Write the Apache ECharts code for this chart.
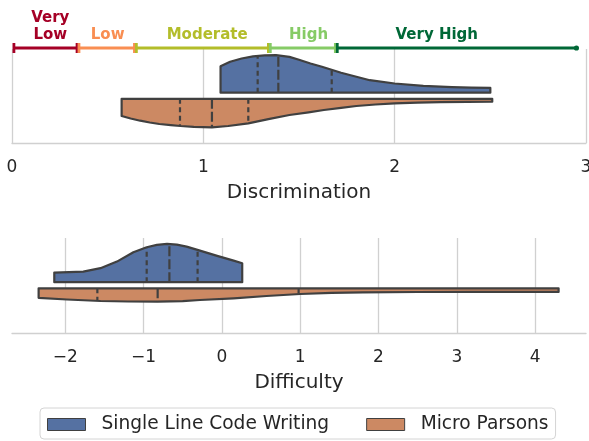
<!DOCTYPE html>
<html><head><meta charset="utf-8">
<script src="https://cdn.jsdelivr.net/npm/echarts@6/dist/echarts.min.js"></script>
<style>html,body{margin:0;padding:0;background:#fff}#c{width:589px;height:441px}</style>
</head><body><div id="c"></div>
<script>
// ---------- data ----------
const seriesNames = ['Single Line Code Writing', 'Micro Parsons'];

// Discrimination categories (Baker)
const rangeLabels = ['Very\nLow', 'Low', 'Moderate', 'High', 'Very High'];
const rangeStart  = [0.01, 0.35, 0.65, 1.35, 1.70];
const rangeEnd    = [0.34, 0.64, 1.34, 1.69, 2.95];
const rangeLabelAt = [0.20, 0.50, 1.02, 1.55, 2.22];

const discTicks = [0, 1, 2, 3];
const diffTicks = [-2, -1, 0, 1, 2, 3, 4];

// Discrimination - Single Line Code Writing (density profile, upper half)
const discSlX = [1.09, 1.14, 1.2, 1.26, 1.32, 1.38, 1.45, 1.5, 1.56, 1.62, 1.67, 1.72, 1.77, 1.87, 2.0, 2.15, 2.3, 2.4, 2.5];
const discSlD = [26.5, 31, 34.2, 36.3, 37.3, 37.5, 35.8, 33, 29.2, 26, 23, 20, 17.5, 12.5, 9.2, 6.8, 5.5, 5, 4.8];
const discSlQ = [1.284, 1.392, 1.671];

// Discrimination - Micro Parsons (lower half)
const discMpX = [0.573, 0.62, 0.67, 0.72, 0.77, 0.83, 0.88, 0.95, 1.045, 1.13, 1.235, 1.34, 1.45, 1.55, 1.63, 1.72, 1.8, 1.9, 2.0, 2.12, 2.24, 2.38, 2.51];
const discMpD = [17.2, 19.7, 21.9, 23.7, 25.2, 26.4, 27.2, 28, 28.5, 27.2, 24.5, 20.3, 16.2, 13.5, 11.2, 9, 7.2, 5.7, 4.5, 3.8, 3.3, 3, 2.9];
const discMpQ = [0.878, 1.045, 1.235];

// Difficulty - Single Line Code Writing
const diffSlX = [-2.14, -1.77, -1.55, -1.34, -1.13, -0.96, -0.83, -0.70, -0.575, -0.45, -0.28, -0.06, 0.15, 0.26];
const diffSlD = [9.6, 10.6, 14, 20.6, 30, 35, 37.3, 38.3, 37.6, 35.6, 31.6, 26.3, 21.6, 19];
const diffSlQ = [-0.96, -0.67, -0.31];

// Difficulty - Micro Parsons
const diffMpX = [-2.34, -1.98, -1.55, -1.2, -0.82, -0.5, -0.28, 0.15, 0.57, 1.0, 1.4, 1.8, 2.5, 3.2, 4.3];
const diffMpD = [9.5, 11.2, 12.7, 13.2, 13.4, 12.8, 11.7, 10, 7.7, 5.7, 4.6, 4, 3.7, 3.6, 3.6];
const diffMpQ = [-1.59, -0.82, 0.98];

// ---------- style ----------
const FONT = 'DejaVu Sans';
const EDGE = '#404040';
const COLORS = ['#5571a2', '#cc8963'];
const RANGE_COLORS = ['#a50026', '#f98e52', '#b3bd2a', '#86cb66', '#006837'];
const GRIDC = '#d0d0d0';
const TXT = '#262626';
const Y_TOP = 47;      // half-range of top hidden y axis
const Y_BOT = 47.5;    // half-range of bottom hidden y axis
const BASE_UP = 3.3, BASE_DN = -2.8; // split gap around centre

function interp(xs, ds, q) {
  if (q <= xs[0]) return ds[0];
  for (let i = 1; i < xs.length; i++) {
    if (q <= xs[i]) {
      const t = (q - xs[i - 1]) / (xs[i] - xs[i - 1]);
      return ds[i - 1] + t * (ds[i] - ds[i - 1]);
    }
  }
  return ds[ds.length - 1];
}

function violin(name, color, xs, ds, qs, side, base, axisIdx) {
  return {
    type: 'custom', name: name, xAxisIndex: axisIdx, yAxisIndex: axisIdx,
    itemStyle: { color: color, borderColor: EDGE, borderWidth: 1 },
    silent: true, clip: false,
    data: [[xs[0], base]],
    renderItem: function (params, api) {
      const pts = [];
      for (let i = 0; i < xs.length; i++) pts.push(api.coord([xs[i], base + side * ds[i]]));
      pts.push(api.coord([xs[xs.length - 1], base]));
      pts.push(api.coord([xs[0], base]));
      const children = [{
        type: 'polygon', shape: { points: pts, smooth: 0 },
        style: { fill: color, stroke: EDGE, lineWidth: 2.2, lineJoin: 'round' }
      }];
      qs.forEach(function (q, k) {
        const h = interp(xs, ds, q);
        const a = api.coord([q, base]);
        const b = api.coord([q, base + side * h]);
        children.push({
          type: 'line', shape: { x1: a[0], y1: a[1], x2: b[0], y2: b[1] },
          style: { stroke: EDGE, lineWidth: 2.2, lineDash: k === 1 ? [10, 3] : [5, 3.5] }
        });
      });
      return { type: 'group', children: children };
    }
  };
}

const rangeSeries = {
  type: 'custom', xAxisIndex: 0, yAxisIndex: 0, silent: true, clip: false,
  data: rangeStart.map(function (s, i) { return [s, rangeEnd[i], rangeLabelAt[i], i]; }),
  encode: { x: [0, 1, 2], y: -1 },
  renderItem: function (params, api) {
    const i = api.value(3);
    const c = RANGE_COLORS[i];
    const p1 = api.coord([api.value(0), Y_TOP]);
    const p2 = api.coord([api.value(1), Y_TOP]);
    const pl = api.coord([api.value(2), Y_TOP]);
    const y = p1[1] - 1;
    const children = [
      { type: 'line', shape: { x1: p1[0], y1: y, x2: p2[0], y2: y }, style: { stroke: c, lineWidth: 3 } },
      { type: 'line', shape: { x1: p1[0], y1: y - 5, x2: p1[0], y2: y + 5 }, style: { stroke: c, lineWidth: 2.8 } }
    ];
    if (i < rangeStart.length - 1) {
      children.push({ type: 'line', shape: { x1: p2[0], y1: y - 5, x2: p2[0], y2: y + 5 }, style: { stroke: c, lineWidth: 2.8 } });
    } else {
      children.push({ type: 'circle', shape: { cx: p2[0], cy: y, r: 2.6 }, style: { fill: c } });
    }
    children.push({
      type: 'text', x: pl[0], y: y - 4.5,
      style: { text: rangeLabels[i], fill: c, font: 'bold 15px "' + FONT + '"', align: 'center', verticalAlign: 'bottom', lineHeight: 17 }
    });
    return { type: 'group', children: children };
  }
};

function fmt(list) {
  return function (v) {
    const r = Math.round(v);
    if (Math.abs(v - r) > 1e-6 || list.indexOf(r) < 0) return '';
    return r < 0 ? '\u2212' + Math.abs(r) : String(r);
  };
}

const xCommon = {
  type: 'value',
  axisLine: { show: true, onZero: false, lineStyle: { color: GRIDC, width: 1.3 } },
  axisTick: { show: false },
  splitLine: { show: true, lineStyle: { color: GRIDC, width: 1.3 } },
  nameLocation: 'middle',
  nameTextStyle: { fontSize: 20, color: TXT, fontFamily: FONT }
};

const option = {
  animation: false,
  backgroundColor: '#ffffff',
  textStyle: { fontFamily: FONT },
  grid: [
    { left: 12, top: 49, width: 574, height: 94, containLabel: false, outerBoundsMode: 'none' },
    { left: 12, top: 238, width: 574, height: 95, containLabel: false, outerBoundsMode: 'none' }
  ],
  xAxis: [
    Object.assign({}, xCommon, {
      gridIndex: 0, min: discTicks[0], max: discTicks[discTicks.length - 1], interval: 1,
      name: 'Discrimination', nameGap: 40,
      axisLabel: { fontSize: 17, color: TXT, fontFamily: FONT, margin: 16, formatter: fmt(discTicks) }
    }),
    Object.assign({}, xCommon, {
      gridIndex: 1, min: -2.68, max: 4.65, minInterval: 1, maxInterval: 1,
      name: 'Difficulty', nameGap: 40,
      splitLine: { show: true, showMinLine: false, showMaxLine: false, lineStyle: { color: GRIDC, width: 1.3 } },
      axisLabel: { fontSize: 17, color: TXT, fontFamily: FONT, margin: 16, showMinLabel: false, showMaxLabel: false, formatter: fmt(diffTicks) }
    })
  ],
  yAxis: [
    { type: 'value', gridIndex: 0, min: -Y_TOP, max: Y_TOP, show: false },
    { type: 'value', gridIndex: 1, min: -Y_BOT, max: Y_BOT, show: false }
  ],
  legend: {
    left: 40, top: 408, itemWidth: 38, itemHeight: 12, itemGap: 37,
    padding: [7, 7, 5, 7], borderColor: '#d4d4d4', borderWidth: 1, borderRadius: 4,
    textStyle: { fontSize: 18.6, color: TXT, fontFamily: FONT, padding: [0, 0, 0, 11] },
    data: seriesNames.map(function (n, i) {
      return { name: n, icon: 'rect', itemStyle: { color: COLORS[i], borderColor: EDGE, borderWidth: 1 } };
    })
  },
  series: [
    violin(seriesNames[0], COLORS[0], discSlX, discSlD, discSlQ, 1, BASE_UP, 0),
    violin(seriesNames[1], COLORS[1], discMpX, discMpD, discMpQ, -1, BASE_DN, 0),
    violin(seriesNames[0], COLORS[0], diffSlX, diffSlD, diffSlQ, 1, BASE_UP, 1),
    violin(seriesNames[1], COLORS[1], diffMpX, diffMpD, diffMpQ, -1, BASE_DN, 1),
    rangeSeries
  ]
};

const chart = echarts.init(document.getElementById('c'), null, { renderer: 'canvas' });
chart.setOption(option);
</script>
</body></html>
